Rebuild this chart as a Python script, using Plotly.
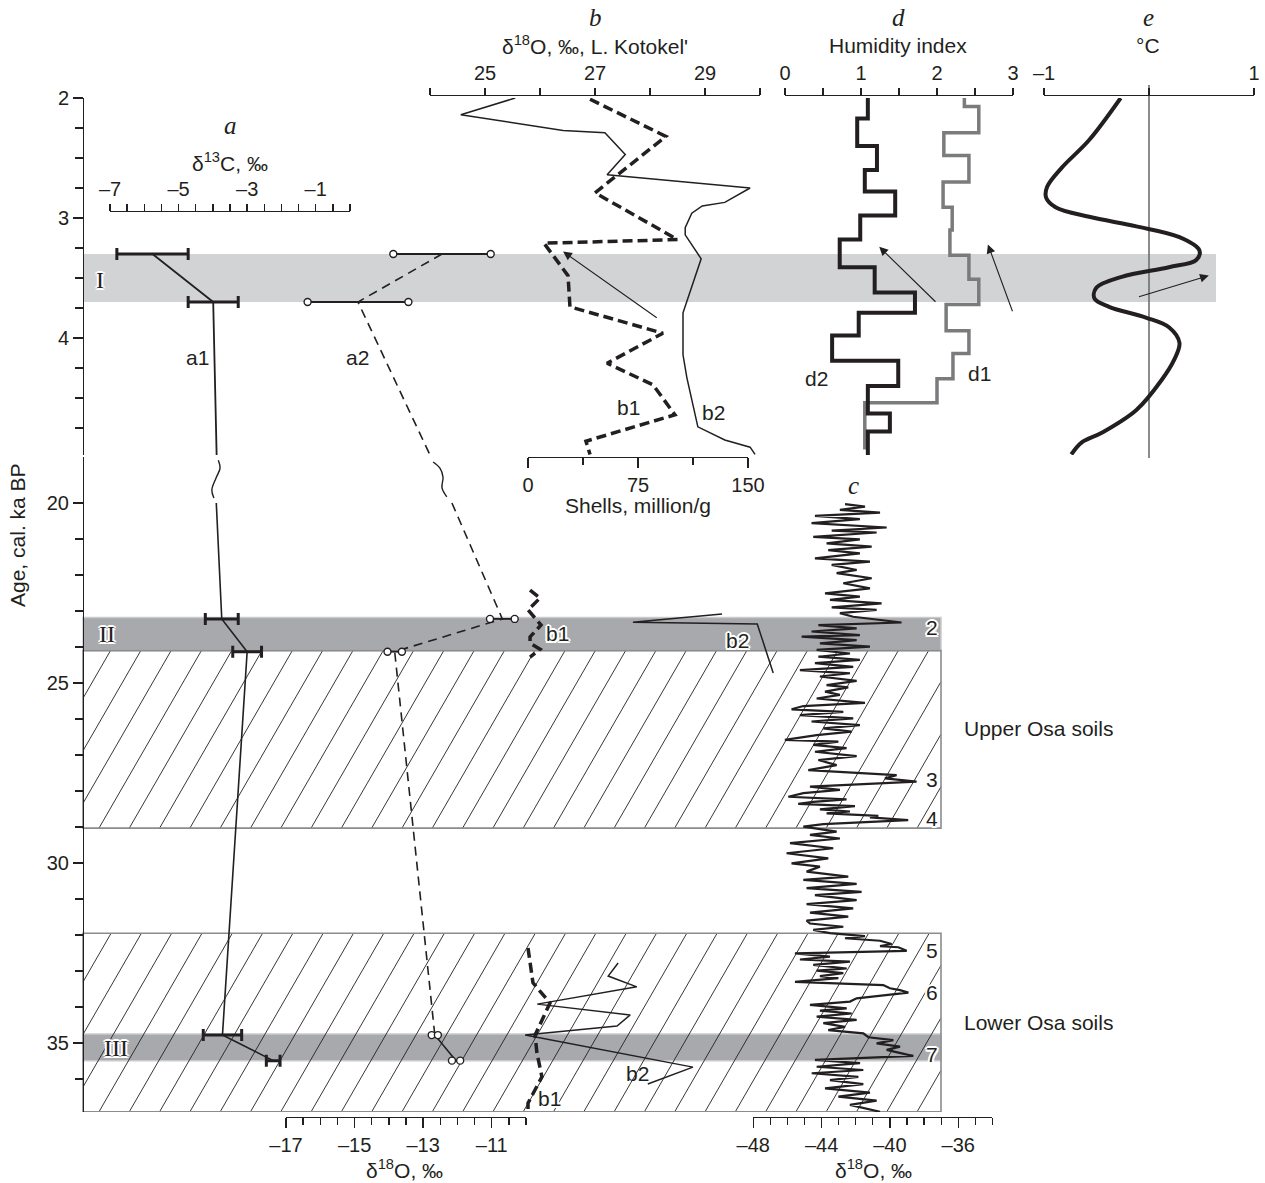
import plotly.graph_objects as go

W, H = 1265, 1183
INK = '#231f20'
SANS = 'Liberation Sans, Arial, sans-serif'
SERIF = 'Liberation Serif, Times New Roman, serif'

# ======================= DATA =======================
# --- panel a: a1 = d13C (per mil), a2 = d18O (per mil); ages in cal. ka BP
a1_age_upper = [3.3, 3.7]
a1_val_upper = [-5.76, -3.99]
a1_err_upper = [1.04, 0.73]
a1_age_lower = [23.22, 24.13, 34.78, 35.49]
a1_val_lower = [-3.74, -3.0, -3.72, -2.24]
a1_err_lower = [0.48, 0.42, 0.56, 0.2]
a1_link_upper_age = [3.7, 4.975]
a1_link_upper_val = [-3.99, -3.89]
a1_link_lower_age = [20.0, 23.22]
a1_link_lower_val = [-3.9, -3.74]
a1_break_age = [18.81, 19.03, 19.31, 19.64, 19.86]
a1_break_val = [-3.84, -3.79, -3.91, -4.03, -3.97]

a2_age_upper = [3.3, 3.7]
a2_val_upper = [-12.45, -14.9]
a2_err_upper = [1.42, 1.47]
a2_age_lower = [23.22, 24.13, 34.78, 35.49]
a2_val_lower = [-10.69, -13.83, -12.66, -12.04]
a2_err_lower = [0.36, 0.21, 0.09, 0.12]
a2_link_upper_age = [3.3, 3.7, 4.975]
a2_link_upper_val = [-12.45, -14.9, -12.8]
a2_break_age = [18.86, 19.03, 19.28, 19.58, 19.83]
a2_break_val = [-12.71, -12.51, -12.42, -12.45, -12.31]
a2_link_lower_age = [20.0, 23.22, 24.13, 34.78]
a2_link_lower_val = [-12.16, -10.69, -13.83, -12.66]

# --- panel b: b1 = shells (million/g), b2 = d18O L. Kotokel'
b1_age_upper = [2.01, 2.32, 2.79, 3.18, 3.21, 3.48, 3.74, 3.96, 4.21, 4.39, 4.64, 4.86, 4.97]
b1_val_upper = [42.3, 94.0, 45.7, 102.0, 10.9, 27.3, 28.6, 92.0, 53.9, 85.2, 100.2, 39.5, 42.3]
b2_age_upper = [2.0, 2.14, 2.27, 2.29, 2.47, 2.64, 2.75, 2.87, 2.9, 2.96, 3.08, 3.14, 3.34,
                3.49, 3.79, 4.14, 4.33, 4.74, 4.85, 4.91, 4.97]
b2_val_upper = [25.55, 24.56, 26.42, 27.18, 27.55, 27.22, 29.82, 29.36, 28.95, 28.76, 28.64,
                28.64, 28.93, 28.82, 28.6, 28.6, 28.67, 28.87, 29.36, 29.82, 29.91]
b1_age_lgm = [22.42, 22.64, 22.97, 23.39, 23.72, 23.89, 24.06, 24.28]
b1_val_lgm = [1.4, 8.2, 0.0, 8.9, 1.4, 1.4, 8.2, 1.4]
b2_age_lgm = [23.08, 23.31, 23.36, 24.72]
b2_val_lgm = [29.31, 27.69, 29.95, 30.24]
b1_age_mis3 = [32.36, 33.33, 33.89, 34.78, 35.28, 35.94, 36.67, 36.92]
b1_val_mis3 = [0.0, 3.4, 15.0, 4.8, 6.1, 9.5, 0.0, 0.0]
b2_age_mis3 = [32.78, 33.14, 33.44, 33.92, 34.22, 34.53, 34.78, 35.67, 36.14]
b2_val_mis3 = [27.42, 27.24, 27.76, 25.95, 27.64, 27.4, 25.73, 28.78, 27.96]

# --- panel c: NGRIP d18O (per mil)
c_age = [20.03, 20.10, 20.19, 20.27, 20.36, 20.45, 20.56, 20.68, 20.77, 20.82, 20.94, 21.01,
         21.12, 21.21, 21.31, 21.40, 21.54, 21.63, 21.72, 21.86, 21.95, 22.09, 22.23, 22.37,
         22.51, 22.60, 22.69, 22.79, 22.90, 22.97, 23.06, 23.16, 23.32, 23.39, 23.48, 23.57,
         23.67, 23.71, 23.81, 23.90, 23.99, 24.08, 24.18, 24.27, 24.36, 24.45, 24.55, 24.64,
         24.73, 24.82, 24.94, 25.06, 25.12, 25.24, 25.33, 25.43, 25.55, 25.64, 25.73, 25.80,
         25.89, 25.98, 26.07, 26.17, 26.26, 26.35, 26.45, 26.58, 26.63, 26.72, 26.81, 26.91,
         27.03, 27.14, 27.28, 27.42, 27.56, 27.65, 27.74, 27.88, 27.97, 28.06, 28.16, 28.23,
         28.30, 28.36, 28.42, 28.51, 28.57, 28.62, 28.69, 28.73, 28.81, 28.92, 28.99, 29.13,
         29.22, 29.32, 29.45, 29.59, 29.73, 29.87, 30.01, 30.10, 30.24, 30.38, 30.47, 30.58,
         30.70, 30.80, 30.89, 31.03, 31.14, 31.26, 31.38, 31.49, 31.60, 31.68, 31.77, 31.86,
         31.95, 32.03, 32.09, 32.16, 32.25, 32.31, 32.34, 32.44, 32.51, 32.60, 32.68, 32.74,
         32.83, 32.93, 32.99, 33.06, 33.14, 33.20, 33.30, 33.39, 33.48, 33.53, 33.60, 33.76,
         33.85, 33.94, 34.04, 34.10, 34.18, 34.27, 34.36, 34.45, 34.55, 34.64, 34.73, 34.84,
         34.92, 35.01, 35.10, 35.19, 35.29, 35.36, 35.47, 35.56, 35.66, 35.75, 35.84, 35.94,
         36.03, 36.14, 36.26, 36.38, 36.49, 36.60, 36.72, 36.91]
c_val = [-42.63, -41.46, -42.93, -40.58, -44.39, -41.76, -44.59, -40.19, -43.41, -40.78, -44.49, -41.76,
         -43.71, -41.07, -43.61, -41.76, -44.39, -41.17, -43.41, -41.95, -43.12, -41.07, -42.73, -41.17,
         -43.80, -41.76, -43.51, -40.49, -43.41, -40.78, -42.93, -42.15, -39.32, -44.19, -41.95, -44.59,
         -41.76, -45.17, -41.95, -44.10, -41.17, -44.29, -42.34, -44.19, -41.76, -44.39, -42.15, -45.27,
         -42.34, -44.10, -41.95, -43.71, -42.44, -43.80, -42.93, -44.29, -41.46, -45.07, -45.76, -42.73,
         -45.27, -42.15, -44.59, -41.76, -43.90, -42.24, -44.29, -46.15, -43.02, -44.49, -42.54, -44.39,
         -41.95, -44.19, -43.12, -44.78, -39.61, -40.29, -38.44, -44.68, -42.93, -45.07, -45.95, -42.54,
         -44.49, -45.37, -42.05, -44.10, -42.34, -43.71, -40.68, -41.17, -38.93, -43.90, -45.07, -43.12,
         -44.68, -42.93, -45.85, -43.32, -46.05, -43.61, -45.76, -44.10, -44.88, -42.44, -45.07, -41.95,
         -44.88, -41.66, -44.39, -41.95, -44.88, -42.15, -44.68, -42.44, -44.88, -44.68, -42.73, -44.49,
         -43.51, -41.46, -42.63, -40.58, -39.90, -40.58, -39.51, -39.02, -45.56, -43.51, -45.27, -42.34,
         -44.49, -42.53, -44.29, -42.73, -44.10, -43.02, -45.56, -40.39, -40.00, -39.41, -38.92, -41.95,
         -42.34, -44.68, -42.53, -44.10, -42.24, -44.29, -41.95, -43.90, -42.63, -43.61, -41.56, -41.26,
         -39.80, -40.78, -39.41, -40.19, -39.31, -38.63, -44.39, -41.75, -44.29, -41.56, -44.58, -41.85,
         -43.51, -41.56, -43.80, -41.17, -43.02, -40.78, -42.34, -40.58]

# --- panel d: humidity index steps (value from the listed age downwards)
d2_age = [2.0, 2.17, 2.4, 2.6, 2.78, 2.98, 3.18, 3.41, 3.62, 3.79, 3.98, 4.19, 4.4, 4.63, 4.78, 4.98]
d2_val = [1.09, 0.95, 1.21, 1.05, 1.45, 0.99, 0.72, 1.18, 1.71, 0.97, 0.62, 1.49, 1.09, 1.38, 1.09, 1.09]
d1_age = [2.0, 2.07, 2.29, 2.48, 2.7, 2.91, 3.1, 3.31, 3.51, 3.72, 3.94, 4.13, 4.34, 4.54, 4.93]
d1_val = [2.36, 2.55, 2.09, 2.42, 2.08, 2.2, 2.17, 2.42, 2.55, 2.12, 2.42, 2.21, 2.0, 1.05, 1.05]

# --- panel e: temperature anomaly (deg C)
e_age = [2.0, 2.35, 2.58, 2.74, 2.83, 2.91, 2.99, 3.07, 3.16, 3.27, 3.35, 3.41, 3.49, 3.58,
         3.67, 3.74, 3.83, 3.91, 4.04, 4.18, 4.35, 4.6, 4.79, 4.87, 4.97]
e_val = [-0.27, -0.57, -0.83, -0.97, -0.98, -0.89, -0.57, -0.12, 0.29, 0.48, 0.45, 0.19, -0.26,
         -0.5, -0.52, -0.38, -0.03, 0.19, 0.29, 0.24, 0.12, -0.12, -0.45, -0.64, -0.74]

# --- arrows (tail value, tail age, head value, head age)
arrow_b = [28.15, 3.84, 26.42, 3.28]
arrow_d = [[2.0, 3.71, 1.24, 3.24], [3.0, 3.79, 2.67, 3.22]]
arrow_e = [-0.11, 3.66, 0.57, 3.48]

# --- intervals (ka)
band_I = [3.3, 3.7]
band_II = [23.18, 24.1]
band_III = [34.75, 35.49]
upper_osa = [24.1, 29.03]
lower_osa = [31.95, 36.91]

# --- tick labels
y_up_ticks = [2, 3, 4]
y_lo_ticks = [20, 25, 30, 35]
a13_ticks = [-7, -5, -3, -1]
a18_ticks = [-17, -15, -13, -11]
b_ticks = [25, 27, 29]
sh_ticks = [0, 75, 150]
c_ticks = [-48, -44, -40, -36]
d_ticks = [0, 1, 2, 3]
e_ticks = [-1, 0, 1]
e_labels = ['\u20131', '', '1']


def lab(v):
    return ('\u2013' + str(abs(v))) if v < 0 else str(v)


# ======================= LAYOUT HELPERS =======================
layout = {}
fig = go.Figure()
TICKFONT = dict(family=SANS, size=20, color=INK)
TXT = 21


def frange(a, b, step):
    out, v = [], a
    while v <= b + 1e-9:
        out.append(round(v, 4))
        v += step
    return out


def axis_pair(n_vis, n_hid, p0, p1, r0, r1, pos_py, side, ticks, step, tlen=8, mlen=7, labels=None):
    minor_vals = [v for v in frange(r0, r1, step) if v not in ticks]
    layout['xaxis' + n_vis] = dict(
        domain=[p0 / W, p1 / W], range=[r0, r1], anchor='free', position=1 - pos_py / H, side=side,
        showline=True, linecolor=INK, linewidth=1.3, ticks='outside', ticklen=tlen, tickwidth=1.3,
        tickcolor=INK, tickmode='array', tickvals=ticks,
        ticktext=labels if labels else [lab(v) for v in ticks],
        tickfont=TICKFONT, automargin=False,
        minor=dict(tickmode='array', tickvals=minor_vals, ticks='outside', ticklen=mlen,
                   tickwidth=1.3, tickcolor=INK),
        showgrid=False, zeroline=False, fixedrange=True)
    s = (r1 - r0) / (p1 - p0)
    layout['xaxis' + n_hid] = dict(domain=[0, 1], range=[r0 - p0 * s, r0 + (W - p0) * s],
                                   visible=False, anchor='free', position=0, fixedrange=True,
                                   automargin=False)
    fig.add_trace(go.Scatter(x=[None], y=[None], xaxis='x' + n_vis, yaxis='y',
                             showlegend=False, hoverinfo='skip'))
    return 'x' + n_hid


XA13 = axis_pair('', '2', 110, 350, -7, 0, 211, 'top', a13_ticks, 0.5, 7, 7)
XA18 = axis_pair('3', '4', 286, 526, -17, -10, 1117, 'bottom', a18_ticks, 0.5, 10, 7)
XB = axis_pair('5', '6', 430, 760, 24, 30, 95, 'top', b_ticks, 1, 7, 7)
XS = axis_pair('7', '8', 528, 748, 0, 150, 457, 'bottom', sh_ticks, 37.5, 10, 7)
XC = axis_pair('9', '10', 753.3, 992.4, -48, -34, 1117, 'bottom', c_ticks, 1, 10, 7)
XD = axis_pair('11', '12', 785, 1013, 0, 3, 95, 'top', d_ticks, 0.5, 7, 7)
XE = axis_pair('13', '14', 1044, 1254, -1, 1, 95, 'top', e_ticks, 1, 7, 7, labels=e_labels)

# y axes: upper (Holocene) 120 px/ka ; lower (MIS 2-3) 36 px/ka
yaxis_common = dict(anchor='free', position=83 / W, side='left', showline=True, linecolor=INK,
                    linewidth=1.3, ticks='outside', ticklen=10, tickwidth=1.3, tickcolor=INK,
                    tickfont=TICKFONT, showgrid=False, zeroline=False, fixedrange=True,
                    tickmode='array', automargin=False)
layout['yaxis'] = dict(yaxis_common, domain=[1 - 455 / H, 1 - 98 / H],
                       range=[2 + (455 - 98) / 120, 2], tickvals=y_up_ticks,
                       ticktext=[str(v) for v in y_up_ticks],
                       minor=dict(tickmode='array', tickvals=[v for v in frange(2, 4.75, 0.25) if v not in y_up_ticks],
                                  ticks='outside', ticklen=8, tickwidth=1.3, tickcolor=INK))
layout['yaxis2'] = dict(yaxis_common, domain=[1 - 1112 / H, 1 - 457 / H],
                        range=[20 + (1112 - 503) / 36, 20 - (503 - 457) / 36], tickvals=y_lo_ticks,
                        ticktext=[str(v) for v in y_lo_ticks],
                        minor=dict(tickmode='array', tickvals=[v for v in frange(20, 36, 1) if v not in y_lo_ticks],
                                   ticks='outside', ticklen=8, tickwidth=1.3, tickcolor=INK))
YU, YL = 'y', 'y2'

# ======================= SHAPES =======================
shapes = []
BAND_L = '#d1d3d4'
BAND_D = '#a7a9ac'
shapes.append(dict(type='rect', xref='paper', yref=YU, x0=83 / W, x1=1216 / W, y0=band_I[0], y1=band_I[1],
                   fillcolor=BAND_L, line=dict(width=0), layer='below'))
for bd in (band_II, band_III):
    shapes.append(dict(type='rect', xref='paper', yref=YL, x0=83 / W, x1=941 / W, y0=bd[0], y1=bd[1],
                       fillcolor=BAND_D, line=dict(width=1.5, color='#c9cacc'), layer='below'))

# hatching of the soil intervals (60 deg lines, 30 px apart)
K = 0.577
for soil in (upper_osa, lower_osa):
    ytop = 503 + (soil[0] - 20) * 36
    ybot = 503 + (soil[1] - 20) * 36
    X0, X1 = 83, 941
    hgt = ybot - ytop
    c = 99 - 30.3 * 12
    while c < X1:
        xa, ya = c, ybot
        xb, yb = c + hgt * K, ytop
        if xa < X0:
            ya = ybot - (X0 - c) / K
            xa = X0
        if xb > X1:
            yb = ybot - (X1 - c) / K
            xb = X1
        if xa < xb and ya > yb:
            shapes.append(dict(type='line', xref='paper', yref='paper', x0=xa / W, x1=xb / W,
                               y0=1 - ya / H, y1=1 - yb / H, line=dict(color=INK, width=0.9),
                               layer='below'))
        c += 30.3
    shapes.append(dict(type='rect', xref='paper', yref=YL, x0=83 / W, x1=941 / W, y0=soil[0], y1=soil[1],
                       fillcolor='rgba(0,0,0,0)', line=dict(width=1.6, color='#8a8c8e'), layer='below'))

# zero line of panel e
shapes.append(dict(type='line', xref=XE, yref='paper', x0=0, x1=0, y0=1 - 458 / H, y1=1 - 85 / H,
                   line=dict(color='#6d6e71', width=1.6), layer='below'))

# ======================= TRACES =======================
def line(x, y, xa, ya, width=1.5, color=INK, dash=None, shape='linear', smoothing=None):
    ln = dict(width=width, color=color, shape=shape)
    if dash:
        ln['dash'] = dash
    if smoothing is not None:
        ln['smoothing'] = smoothing
    fig.add_trace(go.Scatter(x=x, y=y, xaxis=xa, yaxis=ya, mode='lines', line=ln,
                             showlegend=False, hoverinfo='skip'))


# a1
line(a1_val_upper + a1_link_upper_val[1:], a1_age_upper + a1_link_upper_age[1:], XA13, YU, 1.8)
line(a1_break_val, a1_break_age, XA13, YL, 1.4, shape='spline')
line(a1_link_lower_val + a1_val_lower, a1_link_lower_age + a1_age_lower, XA13, YL, 1.6)
for ages, vals, errs, ya in ((a1_age_upper, a1_val_upper, a1_err_upper, YU),
                             (a1_age_lower, a1_val_lower, a1_err_lower, YL)):
    fig.add_trace(go.Scatter(x=vals, y=ages, xaxis=XA13, yaxis=ya, mode='markers',
                             marker=dict(size=0.1, color=INK),
                             error_x=dict(type='data', array=errs, symmetric=True, thickness=3,
                                          width=6, color=INK),
                             showlegend=False, hoverinfo='skip'))

# a2
A2DASH = '9px,6px'
line(a2_link_upper_val, a2_link_upper_age, XA18, YU, 1.6, dash=A2DASH)
line(a2_break_val, a2_break_age, XA18, YL, 1.4, shape='spline')
line(a2_link_lower_val, a2_link_lower_age, XA18, YL, 1.6, dash=A2DASH)
line(a2_val_lower[2:], a2_age_lower[2:], XA18, YL, 1.6)
for ages, vals, errs, ya in ((a2_age_upper, a2_val_upper, a2_err_upper, YU),
                             (a2_age_lower, a2_val_lower, a2_err_lower, YL)):
    xs, ys = [], []
    for a, v, e in zip(ages, vals, errs):
        xs += [v - e, v + e, None]
        ys += [a, a, None]
    fig.add_trace(go.Scatter(x=xs, y=ys, xaxis=XA18, yaxis=ya, mode='lines+markers',
                             line=dict(color=INK, width=1.8),
                             marker=dict(symbol='circle', size=7, color='white',
                                         line=dict(color=INK, width=1.4)),
                             showlegend=False, hoverinfo='skip'))

# b
B1DASH = '10px,5px'
line(b2_val_upper, b2_age_upper, XB, YU, 1.5)
line(b1_val_upper, b1_age_upper, XS, YU, 3.5, dash=B1DASH)
line(b2_val_lgm, b2_age_lgm, XB, YL, 1.5)
line(b1_val_lgm, b1_age_lgm, XS, YL, 3.5, dash=B1DASH)
line(b2_val_mis3, b2_age_mis3, XB, YL, 1.5)
line(b1_val_mis3, b1_age_mis3, XS, YL, 3.5, dash=B1DASH)

# c
line(c_val, c_age, XC, YL, 2.2)

# d
line(d1_val, d1_age, XD, YU, 3.5, color='#7a7b7d', shape='vh')
line(d2_val, d2_age, XD, YU, 4, shape='vh')

# e
line(e_val, e_age, XE, YU, 4, shape='spline', smoothing=1.0)

# ======================= ANNOTATIONS =======================
ann = []
HALO = ('2px 0 0 #fff, -2px 0 0 #fff, 0 2px 0 #fff, 0 -2px 0 #fff, '
        '1.5px 1.5px 0 #fff, -1.5px -1.5px 0 #fff, 1.5px -1.5px 0 #fff, -1.5px 1.5px 0 #fff')


def text(t, px, py, size=TXT, family=SANS, italic=False, halo=False, angle=0):
    f = dict(family=family, size=size, color=INK)
    if italic:
        f['style'] = 'italic'
    if halo:
        f['shadow'] = HALO
    ann.append(dict(text=t, x=px / W, y=1 - py / H, xref='paper', yref='paper', showarrow=False,
                    font=f, xanchor='center', yanchor='middle', textangle=angle))


def arrow(xa, ya, a):
    ann.append(dict(text='', x=a[2], y=a[3], xref=xa, yref=ya, ax=a[0], ay=a[1], axref=xa, ayref=ya,
                    showarrow=True, arrowhead=2, arrowsize=1.6, arrowwidth=1.1, arrowcolor=INK,
                    standoff=0, startstandoff=0))


arrow(XB, YU, arrow_b)
for a in arrow_d:
    arrow(XD, YU, a)
arrow(XE, YU, arrow_e)

text('a', 230, 125, 25, SERIF, italic=True)
text('\u03b4<sup>13</sup>C, \u2030', 230, 162)
text('b', 595, 17, 25, SERIF, italic=True)
text('\u03b4<sup>18</sup>O, \u2030, L. Kotokel\'', 595, 45)
text('d', 898, 17, 25, SERIF, italic=True)
text('Humidity index', 898, 45)
text('e', 1148, 17, 25, SERIF, italic=True)
text('\u00b0C', 1148, 45)
text('c', 853, 486, 25, SERIF, italic=True)
text('Shells, million/g', 638, 505)
text('\u03b4<sup>18</sup>O, \u2030', 404, 1169)
text('\u03b4<sup>18</sup>O, \u2030', 873, 1169)
text('Age, cal. ka BP', 18, 535, angle=-90)
text('a1', 197, 357)
text('a2', 358, 357)
text('b1', 628, 408)
text('b2', 713, 412)
text('d2', 816, 378)
text('d1', 979, 373)
text('b1', 557, 633, halo=True)
text('b2', 737, 640, halo=True)
text('b2', 637, 1073)
text('b1', 549, 1098, halo=True)
for t, py in (('2', 627), ('3', 779), ('4', 818), ('5', 950), ('6', 992), ('7', 1054)):
    text(t, 932, py, 21, halo=True)
text('Upper Osa soils', 1038, 728)
text('Lower Osa soils', 1038, 1022)
text('I', 100, 280, 24, SERIF, halo=True)
text('II', 107, 634, 24, SERIF, halo=True)
text('III', 116, 1048, 24, SERIF, halo=True)

fig.update_layout(width=W, height=H, margin=dict(l=0, r=0, t=0, b=0, pad=0, autoexpand=False),
                  paper_bgcolor='white', plot_bgcolor='rgba(0,0,0,0)', showlegend=False,
                  hovermode=False, shapes=shapes, annotations=ann, **layout)

fig.write_html('out.html', config={'displayModeBar': False, 'staticPlot': True},
               post_script="document.body.style.margin='0px';document.body.style.overflow='hidden';")
